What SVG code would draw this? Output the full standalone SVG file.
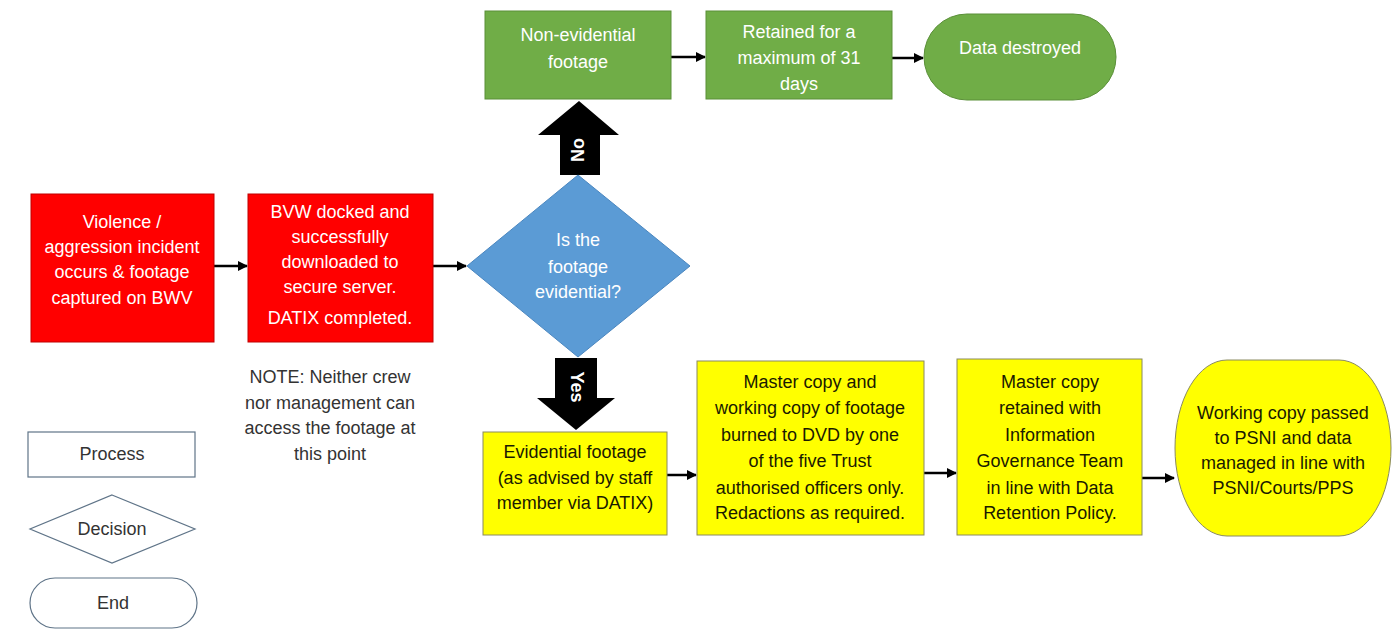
<svg xmlns="http://www.w3.org/2000/svg" width="1392" height="630" viewBox="0 0 1392 630">
<defs>
<marker id="ah" viewBox="0 0 10 10" refX="9" refY="5" markerWidth="4" markerHeight="4" orient="auto"><path d="M0,0 L10,5 L0,10 z" fill="#000"/></marker>
<style>
text{font-family:"Liberation Sans",Arial,sans-serif;font-size:18px;text-anchor:middle}
.w{fill:#fff}
.k{fill:#1a1a00}
.g{fill:#333}
.red{fill:#ff0000;stroke:#c00000;stroke-width:1}
.grn{fill:#70ad47;stroke:#5a8f38;stroke-width:1}
.blu{fill:#5b9bd5;stroke:#4a86bf;stroke-width:1}
.yel{fill:#ffff00;stroke:#8a8a60;stroke-width:1}
.leg{fill:#fff;stroke:#5f7488;stroke-width:1.2}
.con{stroke:#000;stroke-width:2.5;fill:none;marker-end:url(#ah)}
.blk{fill:#000}
</style>
</defs>
<rect width="1392" height="630" fill="#fff"/>

<g id="connectors">
<line class="con" x1="214" y1="266" x2="247" y2="266"/>
<line class="con" x1="433" y1="266" x2="466" y2="266"/>
<line class="con" x1="671" y1="57" x2="705" y2="57"/>
<line class="con" x1="892" y1="58" x2="923" y2="58"/>
<line class="con" x1="667" y1="475" x2="696" y2="475"/>
<line class="con" x1="924" y1="473" x2="956" y2="473"/>
<line class="con" x1="1142" y1="478" x2="1174" y2="478"/>
<g id="arrow-no">
<polygon class="blk" points="560,175 600,175 600,135 619,135 579,101 538,135 560,135"/>
<text class="w" font-size="14" font-weight="bold" transform="translate(584,150) rotate(-90)">No</text>
</g>
<g id="arrow-yes">
<polygon class="blk" points="555,358 597,358 597,398 615,398 576,430 537,398 555,398"/>
<text class="w" font-size="14" font-weight="bold" transform="translate(571,387) rotate(90)">Yes</text>
</g>
</g>

<g id="n-incident">
<rect class="red" x="31" y="194" width="183" height="148"/>
<text class="w"><tspan x="122" y="228">Violence /</tspan><tspan x="122" y="253">aggression incident</tspan><tspan x="122" y="278">occurs &amp; footage</tspan><tspan x="122" y="304">captured on BWV</tspan></text>
</g>

<g id="n-docked">
<rect class="red" x="248" y="194" width="185" height="148"/>
<text class="w"><tspan x="340" y="218">BVW docked and</tspan><tspan x="340" y="243">successfully</tspan><tspan x="340" y="268">downloaded to</tspan><tspan x="340" y="293">secure server.</tspan><tspan x="340" y="324">DATIX completed.</tspan></text>
</g>

<g id="n-note">
<text class="g"><tspan x="330" y="383">NOTE: Neither crew</tspan><tspan x="330" y="409">nor management can</tspan><tspan x="330" y="434">access the footage at</tspan><tspan x="330" y="460">this point</tspan></text>
</g>

<g id="n-decision">
<polygon class="blu" points="578,175 690,266 578,357 467,266"/>
<text class="w"><tspan x="578" y="246">Is the</tspan><tspan x="578" y="273">footage</tspan><tspan x="578" y="298">evidential?</tspan></text>
</g>

<g id="n-nonevid">
<rect class="grn" x="485" y="11" width="186" height="88"/>
<text class="w"><tspan x="578" y="41">Non-evidential</tspan><tspan x="578" y="68">footage</tspan></text>
</g>

<g id="n-retained">
<rect class="grn" x="706" y="11" width="186" height="88"/>
<text class="w"><tspan x="799" y="38">Retained for a</tspan><tspan x="799" y="64">maximum of 31</tspan><tspan x="799" y="90">days</tspan></text>
</g>

<g id="n-destroyed">
<rect class="grn" x="924" y="14" width="192" height="86" rx="43" ry="43"/>
<text class="w" x="1020" y="54">Data destroyed</text>
</g>

<g id="n-evidential">
<rect class="yel" x="483" y="432" width="184" height="103"/>
<text class="k"><tspan x="575" y="458">Evidential footage</tspan><tspan x="575" y="484">(as advised by staff</tspan><tspan x="575" y="509">member via DATIX)</tspan></text>
</g>

<g id="n-master">
<rect class="yel" x="697" y="361" width="227" height="174"/>
<text class="k"><tspan x="810" y="388">Master copy and</tspan><tspan x="810" y="414">working copy of footage</tspan><tspan x="810" y="441">burned to DVD by one</tspan><tspan x="810" y="467">of the five Trust</tspan><tspan x="810" y="494">authorised officers only.</tspan><tspan x="810" y="519">Redactions as required.</tspan></text>
</g>

<g id="n-governance">
<rect class="yel" x="957" y="359" width="185" height="176"/>
<text class="k"><tspan x="1050" y="388">Master copy</tspan><tspan x="1050" y="414">retained with</tspan><tspan x="1050" y="441">Information</tspan><tspan x="1050" y="467">Governance Team</tspan><tspan x="1050" y="494">in line with Data</tspan><tspan x="1050" y="519">Retention Policy.</tspan></text>
</g>

<g id="n-psni">
<rect class="yel" x="1175" y="360" width="216" height="176" rx="52" ry="88"/>
<text class="k"><tspan x="1283" y="419">Working copy passed</tspan><tspan x="1283" y="444">to PSNI and data</tspan><tspan x="1283" y="469">managed in line with</tspan><tspan x="1283" y="494">PSNI/Courts/PPS</tspan></text>
</g>

<g id="legend-process">
<rect class="leg" x="28" y="432" width="167" height="45"/>
<text class="g" font-size="17" x="112" y="460">Process</text>
</g>
<g id="legend-decision">
<polygon class="leg" points="112,495 195,529 112,563 30,529"/>
<text class="g" font-size="17" x="112" y="535">Decision</text>
</g>
<g id="legend-end">
<rect class="leg" x="30" y="578" width="167" height="50" rx="25" ry="25"/>
<text class="g" font-size="17" x="113" y="609">End</text>
</g>
</svg>
